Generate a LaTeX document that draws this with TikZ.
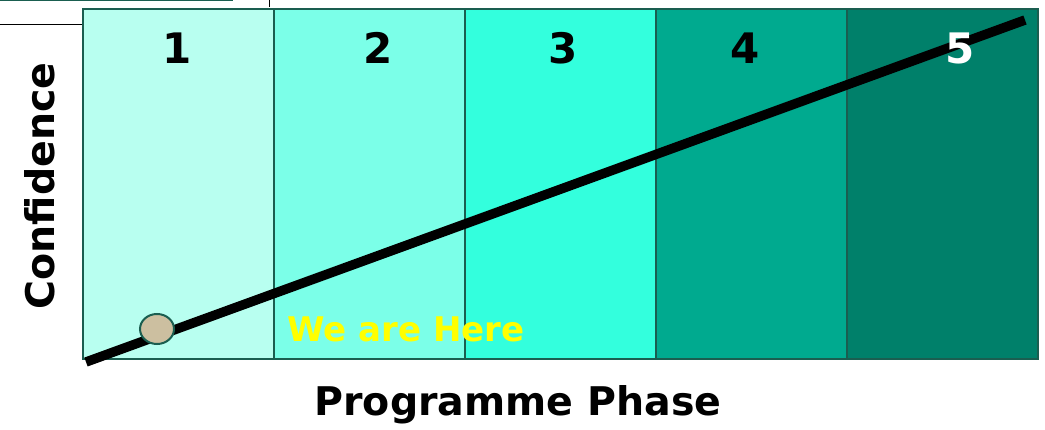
\documentclass[tikz,border=0pt]{standalone}
\usepackage{fontspec}
\setmainfont{DejaVu Sans}
\usetikzlibrary{positioning,shapes.geometric}
\definecolor{edge}{RGB}{26,94,80}
\definecolor{phaseA}{RGB}{184,255,240}
\definecolor{phaseB}{RGB}{123,255,232}
\definecolor{phaseC}{RGB}{51,255,221}
\definecolor{phaseD}{RGB}{0,170,143}
\definecolor{phaseE}{RGB}{0,128,106}
\definecolor{marker}{RGB}{204,191,160}
\definecolor{pointer}{RGB}{255,255,0}

\begin{document}
\begin{tikzpicture}[x=1pt, y=-1pt,
  phase/.style={draw=edge, line width=2pt, minimum width=191pt, minimum height=350pt, inner sep=0pt, anchor=north west},
  num/.style={font=\bfseries\fontsize{42}{42}\selectfont},
  axis/.style={font=\bfseries\fontsize{39.5}{39.5}\selectfont}
]
\useasboundingbox (0,0) rectangle (1045,430);

% scraps of the slide above
\draw[edge, line width=1.5pt] (0,0.5) -- (233,0.5);
\draw[line width=1pt] (269,0) -- (269,7);
\draw[line width=1pt] (0,25) -- (82,25);

\foreach \i/\c in {1/phaseA,2/phaseB,3/phaseC,4/phaseD,5/phaseE}
  \node[phase, fill=\c] (phase\i) at ({82+(\i-1)*191},8) {};

\node[num] (n1) at (177,48) {1};
\node[num] (n2) at (378,48) {2};
\node[num] (n3) at (563,48) {3};
\node[num] (n4) at (745,48) {4};

\coordinate (lo) at (86,362);
\coordinate (hi) at (1025,20);
\draw[line width=9.5pt] (lo) -- (hi);

\node[num, text=white] (n5) at (960,48) {5};

\node[ellipse, draw=edge, line width=2pt, fill=marker, minimum width=34pt, minimum height=30pt] (here) at (157,329) {};
\node[anchor=base west, text=pointer, font=\bfseries\fontsize{34}{34}\selectfont] (herelabel) at (284,342) {We are Here};

\node[axis, rotate=90] (conf) at (40,186) {Confidence};
\node[axis] (prog) at (518,405) {Programme Phase};
\end{tikzpicture}
\end{document}
